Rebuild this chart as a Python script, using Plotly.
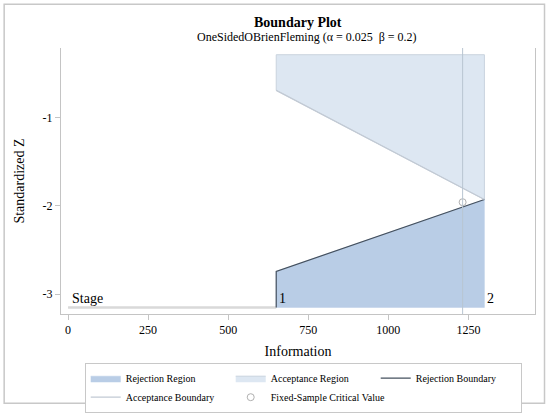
import plotly.graph_objects as go

# ---- data ----
stages = ["1", "2"]
stage_info = [650, 1300]
reject_bound = [-2.744, -1.93]
accept_bound = [-0.694, -1.93]
fixed_info = 1232
fixed_crit = -1.96
region_top = -0.29
region_bottom = -3.152
x_ticks = [0, 250, 500, 750, 1000, 1250]
y_ticks = [-1, -2, -3]
y_tick_labels = ["-1", "-2", "-3"]

FONT = "Liberation Serif, Times New Roman, serif"

# plot area in pixels
W, H = 550, 413
L, R, T, B = 61.3, 535, 48.3, 314.3
pw, ph = R - L, B - T

def px(xp):
    return (xp - L) / pw

def py(yp):
    return (B - yp) / ph

fig = go.Figure()

# acceptance region
fig.add_trace(go.Scatter(
    x=[stage_info[0], stage_info[0], stage_info[1], stage_info[1], stage_info[0]],
    y=[region_top, accept_bound[0], accept_bound[1], region_top, region_top],
    fill="toself", fillcolor="#DDE7F2", mode="lines",
    line=dict(color="#C9D3DE", width=1),
    name="Acceptance Region", legendrank=2, hoverinfo="skip"))

# rejection region
fig.add_trace(go.Scatter(
    x=[stage_info[0], stage_info[0], stage_info[1], stage_info[1], stage_info[0]],
    y=[region_bottom, reject_bound[0], reject_bound[1], region_bottom, region_bottom],
    fill="toself", fillcolor="#B9CDE6", mode="lines",
    line=dict(color="#B9CDE6", width=0.5),
    name="Rejection Region", legendrank=1, hoverinfo="skip"))

# stage axis line
fig.add_trace(go.Scatter(
    x=[0, stage_info[0]], y=[region_bottom, region_bottom], mode="lines",
    line=dict(color="#D9D9D9", width=2.5), showlegend=False, hoverinfo="skip"))

# rejection boundary
fig.add_trace(go.Scatter(
    x=[stage_info[0], stage_info[0], stage_info[1]],
    y=[region_bottom, reject_bound[0], reject_bound[1]],
    mode="lines", line=dict(color="#44505E", width=1.2),
    name="Rejection Boundary", legendrank=3))

# acceptance boundary
fig.add_trace(go.Scatter(
    x=stage_info, y=accept_bound, mode="lines",
    line=dict(color="#C2CAD4", width=1.2),
    name="Acceptance Boundary", legendrank=4))

# fixed-sample reference line
fig.add_vline(x=fixed_info, line=dict(color="#B9C5D1", width=1))

# fixed-sample critical value
fig.add_trace(go.Scatter(
    x=[fixed_info], y=[fixed_crit], mode="markers",
    marker=dict(symbol="circle-open", size=7, color="#B0B0B0", line=dict(width=1)),
    name="Fixed-Sample Critical Value", legendrank=5))

# stage labels
fig.add_annotation(x=0, y=region_bottom, text="Stage", showarrow=False,
                   xanchor="left", yanchor="bottom", xshift=2, yshift=-1,
                   font=dict(family=FONT, size=14, color="#000"))
for s, xi in zip(stages, stage_info):
    fig.add_annotation(x=xi, y=region_bottom, text=s, showarrow=False,
                       xanchor="left", yanchor="bottom", xshift=1, yshift=-1,
                       font=dict(family=FONT, size=14, color="#000"))

# titles
fig.add_annotation(x=0.5, y=py(22.5), xref="paper", yref="paper",
                   text="<b>Boundary Plot</b>", showarrow=False,
                   font=dict(family=FONT, size=14, color="#000"), yanchor="middle")
fig.add_annotation(x=0.518, y=py(37), xref="paper", yref="paper",
                   text="OneSidedOBrienFleming (α = 0.025  β = 0.2)", showarrow=False,
                   font=dict(family=FONT, size=12, color="#000"), yanchor="middle")

# outer border
fig.add_shape(type="rect", xref="paper", yref="paper",
              x0=px(4.5), x1=px(544.5), y0=py(403.5), y1=py(4.5),
              line=dict(color="#C8C8C8", width=1.5), layer="below")

fig.update_layout(
    width=W, height=H,
    margin=dict(l=L, r=W - R, t=T, b=H - B, autoexpand=False),
    paper_bgcolor="white", plot_bgcolor="white",
    font=dict(family=FONT, size=12, color="#000"),
    xaxis=dict(range=[-22, 1458], tickvals=x_ticks, showgrid=False, zeroline=False,
               showline=True, linecolor="#C4C4C4", linewidth=1,
               ticks="outside", ticklen=5, tickcolor="#C4C4C4",
               tickfont=dict(family=FONT, size=12),
               title=dict(text="Information", font=dict(family=FONT, size=14), standoff=9)),
    yaxis=dict(range=[-3.226, -0.214], tickvals=y_ticks, ticktext=y_tick_labels,
               showgrid=False, zeroline=False,
               showline=True, mirror=True, linecolor="#C4C4C4", linewidth=1,
               ticks="outside", ticklen=5, tickcolor="#C4C4C4",
               tickfont=dict(family=FONT, size=12),
               title=dict(text="Standardized Z", font=dict(family=FONT, size=14), standoff=14)),
    legend=dict(orientation="h", x=px(85), y=py(363), xanchor="left", yanchor="top",
                bordercolor="#C8C8C8", borderwidth=1, bgcolor="white",
                font=dict(family=FONT, size=10), entrywidth=100, entrywidthmode="pixels",
                tracegroupgap=0, itemwidth=30),
    showlegend=True,
)

fig.write_html(
    "out.html",
    config={"displayModeBar": False},
    post_script="document.body.style.margin='0';document.body.style.overflow='hidden';",
)
